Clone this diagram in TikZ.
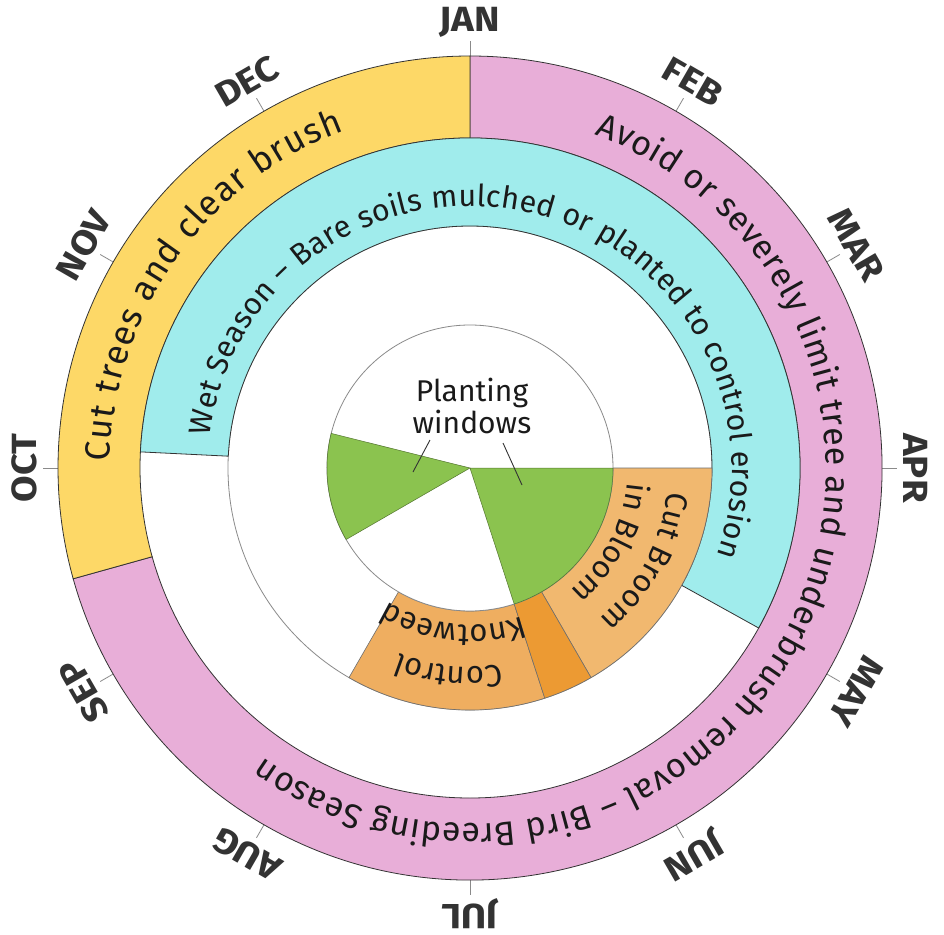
\documentclass[tikz,border=0pt]{standalone}
\usepackage{fontspec}
\setmainfont{Fira Sans}
\newfontfamily\monthfont[FakeStretch=1.1]{Fira Sans}
\usetikzlibrary{decorations.text}
\definecolor{ylw}{HTML}{FDD867}
\definecolor{pnk}{HTML}{E8AED8}
\definecolor{cyn}{HTML}{A0ECEC}
\definecolor{orgA}{HTML}{EFAE60}
\definecolor{orgB}{HTML}{F1B86F}
\definecolor{orgD}{HTML}{EC9A33}
\definecolor{grn}{HTML}{8BC34F}
\definecolor{edgec}{HTML}{333333}
\definecolor{lgray}{HTML}{8A8A8A}
\definecolor{txt}{HTML}{1A1A1A}
\newcommand\ringseg[4]{(#1:#3) arc[start angle=#1,end angle=#2,radius=#3] -- (#2:#4) arc[start angle=#2,end angle=#1,radius=#4] -- cycle}
\tikzset{
  band/.style={draw=edgec, line width=0.8pt},
  inband/.style={draw=lgray!80!black, line width=0.6pt},
  tick/.style={draw=lgray, line width=0.8pt},
  month/.style={font=\monthfont\fontsize{35pt}{35pt}\selectfont\bfseries, text=edgec, inner sep=0pt},
  pointer/.style={draw=edgec, line width=0.9pt},
  fittext/.style={decorate, decoration={text along path, text align=fit to path, text color=txt, text={#1}}},
  ctrtext/.style={decorate, decoration={text along path, text align=center, text color=txt, text={#1}}},
}
\begin{document}
\begin{tikzpicture}[x=1pt,y=1pt]
\useasboundingbox (-470pt,-466pt) rectangle (474pt,468pt);
\fill[white] (-470pt,-466pt) rectangle (474pt,468pt);
% month ticks and labels
\foreach \ang/\name in {90/JAN,60/FEB,30/MAR,0/APR,-30/MAY,-60/JUN,-90/JUL,-120/AUG,-150/SEP,180/OCT,150/NOV,120/DEC}{
  \coordinate (t1\name) at (\ang:412pt);
  \coordinate (t2\name) at (\ang:427pt);
  \draw[tick] (t1\name) -- (t2\name);
  \node[month, rotate=\ang-90] (m\name) at (\ang:446pt) {\name};
}
% outer ring
\draw[band, fill=pnk] \ringseg{-164.4}{90}{412pt}{330pt};
\draw[band, fill=ylw] \ringseg{90}{195.6}{412pt}{330pt};
% middle circle
\draw[lgray, line width=0.8pt, fill=white] (0,0) circle[radius=242pt];
% cyan band
\draw[band, fill=cyn] \ringseg{-29}{177.2}{330pt}{242pt};
% orange bands
\draw[inband, fill=orgB] \ringseg{-60}{0}{242pt}{143pt};
\draw[inband, fill=orgA] \ringseg{-120}{-72}{242pt}{143pt};
\draw[inband, fill=orgD] \ringseg{-72}{-60}{242pt}{143pt};
% inner circle
\draw[lgray, line width=0.8pt, fill=white] (0,0) circle[radius=143pt];
% green planting windows
\draw[draw=grn!60!black, line width=0.5pt, fill=grn] (0,0) -- (166:143pt) arc[start angle=166,end angle=210,radius=143pt] -- cycle;
\draw[draw=grn!60!black, line width=0.5pt, fill=grn] (0,0) -- (-72:143pt) arc[start angle=-72,end angle=0,radius=143pt] -- cycle;
% ring texts
\path[fittext={|\fontsize{34pt}{34pt}\selectfont|Avoid or severely limit tree and underbrush removal – Bird Breeding Season}]
  (69.5:356pt) arc[start angle=69.5,end angle=-125.5,radius=356pt];
\path[fittext={|\fontsize{35pt}{35pt}\selectfont|Cut trees and clear brush}]
  (179:360pt) arc[start angle=179,end angle=110.5,radius=360pt];
\path[fittext={|\fontsize{30.5pt}{30.5pt}\selectfont|Wet Season – Bare soils mulched or planted to control erosion}]
  (173:262pt) arc[start angle=173,end angle=-19.5,radius=262pt];
% inner texts
\path[ctrtext={|\fontsize{31pt}{31pt}\selectfont|Cut Broom}]
  (12:199pt) arc[start angle=12,end angle=-68,radius=199pt];
\path[ctrtext={|\fontsize{31pt}{31pt}\selectfont|in Bloom}]
  (12:158pt) arc[start angle=12,end angle=-68,radius=158pt];
\path[ctrtext={|\fontsize{31pt}{31pt}\selectfont|Control}]
  (-56:199pt) arc[start angle=-56,end angle=-136,radius=199pt];
\path[ctrtext={|\fontsize{31pt}{31pt}\selectfont|Knotweed}]
  (-56:157pt) arc[start angle=-56,end angle=-136,radius=157pt];
% planting windows label
\node[align=center, font=\fontsize{30pt}{32pt}\selectfont, text=txt, inner sep=0pt] (pw) at (2pt,62pt) {Planting\\windows};
\coordinate (pa1) at (-40pt,28pt);
\coordinate (pa2) at (-57pt,-4pt);
\coordinate (pb1) at (33pt,25pt);
\coordinate (pb2) at (52pt,-17pt);
\draw[pointer] (pa1) -- (pa2);
\draw[pointer] (pb1) -- (pb2);
\end{tikzpicture}
\end{document}
